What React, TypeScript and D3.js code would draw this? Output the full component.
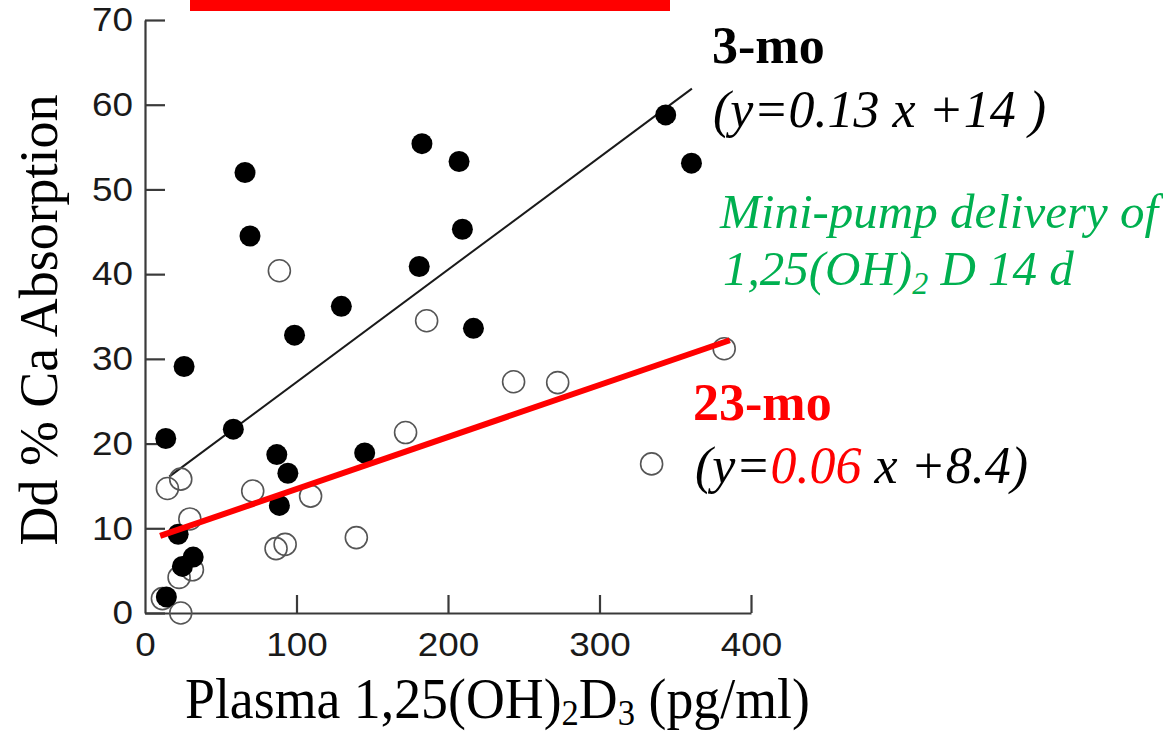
import React, { useEffect, useRef } from 'react';
import * as d3 from 'd3';

const xTicks = [0, 100, 200, 300, 400];
const yTicks = [0, 10, 20, 30, 40, 50, 60, 70];

// 3-mo (filled circles)
const filledX = [66, 69.3, 182.8, 207.3, 209.5, 181, 129.6, 98.7, 216.8, 25.8, 13.7, 58.3, 87, 94.3, 145, 88.7, 21.9, 24.7, 31.8, 14.1, 343.7, 360.7];
const filledY = [52.0, 44.5, 55.4, 53.3, 45.3, 40.9, 36.2, 32.8, 33.6, 29.1, 20.6, 21.7, 18.7, 16.5, 18.9, 12.7, 9.3, 5.5, 6.6, 1.9, 58.8, 53.1];

// 23-mo (open circles)
const openX = [88.7, 185.9, 172, 14.8, 23.6, 71.1, 109.3, 29.6, 86.5, 92.5, 139.5, 22.5, 31.3, 11.5, 23.6, 243.3, 272.4, 382.3, 334.4];
const openY = [40.4, 34.5, 21.3, 14.7, 15.8, 14.4, 13.8, 11.1, 7.6, 8.1, 8.9, 4.2, 5.1, 1.7, 0, 27.3, 27.2, 31.2, 17.6];

// regression line end points
const fit3moX = [16, 361];
const fit3moY = [16.1, 61.9];
const fit23moX = [10, 386];
const fit23moY = [9.1, 32.2];

const W = 1163;
const H = 734;

export default function App() {
  const ref = useRef<SVGSVGElement>(null);

  useEffect(() => {
    const svg = d3.select(ref.current);
    svg.selectAll('*').remove();

    const x = d3.scaleLinear().domain([0, 400]).range([145, 751]);
    const y = d3.scaleLinear().domain([0, 70]).range([613, 20]);

    // red bar at top
    svg.append('rect').attr('x', 190).attr('y', 0).attr('width', 480).attr('height', 11).attr('fill', '#ff0000');

    const SX = 1.1;
    // axes
    const yAxis = d3.axisLeft(y).tickValues(yTicks).tickSizeInner(-20).tickSizeOuter(0).tickPadding(12);
    const gy = svg.append('g').attr('transform', `translate(${x(0)},0)`).call(yAxis);
    const xAxis = d3.axisBottom(x).tickValues(xTicks).tickSizeInner(-18).tickSizeOuter(0).tickPadding(19);
    const gx = svg.append('g').attr('transform', `translate(0,${y(0)})`).call(xAxis);
    [gx, gy].forEach((g) => {
      g.select('.domain').attr('stroke', '#3a3a3a').attr('stroke-width', 2.2);
      g.selectAll('.tick line').attr('stroke', '#3a3a3a').attr('stroke-width', 2.2);
      g.selectAll('.tick text')
        .attr('fill', '#1a1a1a')
        .attr('font-family', '"Liberation Sans", Arial, sans-serif')
        .attr('font-size', 33.5);
    });
    gy.selectAll('.tick text').attr('x', -12 / SX).attr('transform', `scale(${SX},1)`);
    gx.selectAll('.tick text').attr('transform', `scale(${SX},1)`);
    gx.selectAll('.tick line').filter((d: any) => d === 0).remove();

    // regression lines
    const line = d3.line<[number, number]>().x((d) => x(d[0])).y((d) => y(d[1]));
    svg.append('path')
      .attr('d', line(fit3moX.map((v, i) => [v, fit3moY[i]] as [number, number])))
      .attr('fill', 'none').attr('stroke', '#1a1a1a').attr('stroke-width', 2);

    // open circles
    svg.append('g').selectAll('circle').data(openX.map((v, i) => [v, openY[i]]))
      .join('circle')
      .attr('cx', (d) => x(d[0])).attr('cy', (d) => y(d[1])).attr('r', 11)
      .attr('fill', 'none').attr('stroke', '#555').attr('stroke-width', 1.6);

    // filled circles
    svg.append('g').selectAll('circle').data(filledX.map((v, i) => [v, filledY[i]]))
      .join('circle')
      .attr('cx', (d) => x(d[0])).attr('cy', (d) => y(d[1])).attr('r', 10.5)
      .attr('fill', '#000');

    svg.append('path')
      .attr('d', line(fit23moX.map((v, i) => [v, fit23moY[i]] as [number, number])))
      .attr('fill', 'none').attr('stroke', '#ff0000').attr('stroke-width', 6);

    const serif = '"Liberation Serif", "Times New Roman", serif';

    // y label
    svg.append('text')
      .attr('transform', 'translate(57,320) rotate(-90)')
      .attr('text-anchor', 'middle')
      .attr('font-family', serif).attr('font-size', 54)
      .attr('textLength', 451).attr('lengthAdjust', 'spacingAndGlyphs')
      .attr('fill', '#000')
      .text('Dd % Ca Absorption');

    // x label
    const xl = svg.append('text')
      .attr('x', 185).attr('y', 718)
      .attr('font-family', serif).attr('font-size', 56).attr('fill', '#000');
    xl.append('tspan').text('Plasma 1,25(OH)');
    xl.append('tspan').attr('font-size', 36).attr('dy', 7).text('2');
    xl.append('tspan').attr('dy', -7).text('D');
    xl.append('tspan').attr('font-size', 36).attr('dy', 7).text('3');
    xl.append('tspan').attr('dy', -7).text(' (pg/ml)');
    const node = xl.node() as SVGTextElement;
    const bw = node.getBBox().width;
    if (bw > 0) {
      const s = 625 / bw;
      xl.attr('transform', `translate(185,0) scale(${s},1) translate(-185,0)`);
    }

    // annotations
    svg.append('text').attr('x', 712).attr('y', 63)
      .attr('font-family', serif).attr('font-size', 52).attr('font-weight', 'bold').attr('fill', '#000')
      .text('3-mo');
    svg.append('text').attr('x', 713).attr('y', 127)
      .attr('font-family', serif).attr('font-size', 52).attr('font-style', 'italic').attr('fill', '#000')
      .text('(y=0.13 x +14 )');

    svg.append('text').attr('x', 720).attr('y', 228)
      .attr('font-family', serif).attr('font-size', 49).attr('font-style', 'italic').attr('fill', '#00b050')
      .text('Mini-pump delivery of');
    const g2 = svg.append('text').attr('x', 723).attr('y', 285)
      .attr('font-family', serif).attr('font-size', 49).attr('font-style', 'italic').attr('fill', '#00b050');
    g2.append('tspan').text('1,25(OH)');
    g2.append('tspan').attr('font-size', 32).attr('dy', 9).text('2');
    g2.append('tspan').attr('dy', -9).text(' D 14 d');

    svg.append('text').attr('x', 693).attr('y', 420)
      .attr('font-family', serif).attr('font-size', 52).attr('font-weight', 'bold').attr('fill', '#ff0000')
      .text('23-mo');
    const e2 = svg.append('text').attr('x', 695).attr('y', 483)
      .attr('font-family', serif).attr('font-size', 52).attr('font-style', 'italic').attr('fill', '#000');
    e2.append('tspan').text('(y=');
    e2.append('tspan').attr('fill', '#ff0000').text('0.06');
    e2.append('tspan').text('\u00a0x +8.4)');
  }, []);

  return (
    <svg
      ref={ref}
      width={W}
      height={H}
      style={{ position: 'absolute', left: 0, top: 0, background: '#fff' }}
    />
  );
}
